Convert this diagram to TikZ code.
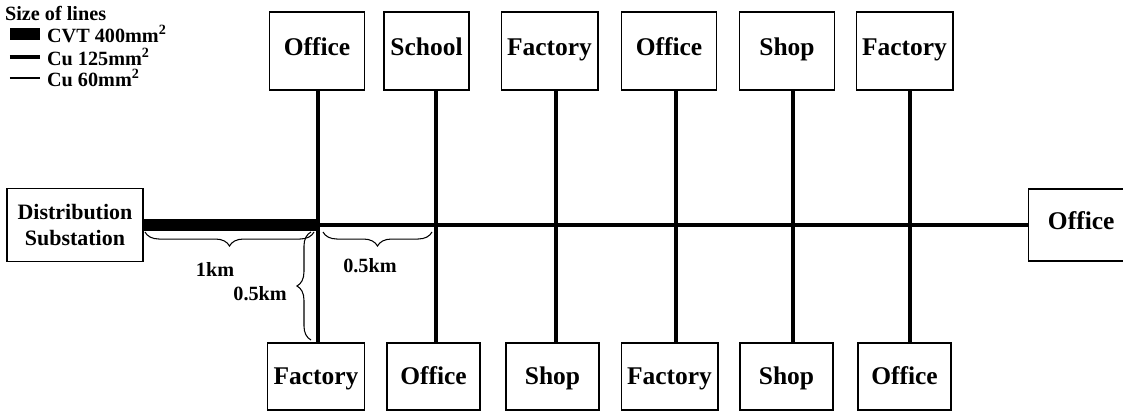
\documentclass[tikz,border=0pt]{standalone}
\usepackage{fontspec}
\setmainfont{Liberation Serif}
\usetikzlibrary{positioning,decorations.pathreplacing}

\begin{document}
\begin{tikzpicture}[
  bx/.style={draw=black,thick,minimum width=1.9cm,minimum height=1.56cm,text height=1.6ex,text depth=0.5ex,font=\fontsize{14.5}{16}\selectfont\bfseries},
  lo/.style={bx,minimum width=1.86cm,minimum height=1.34cm,text height=2.4ex},
  lg/.style={anchor=west,inner sep=1pt,font=\fontsize{11.5}{13}\selectfont\bfseries},
  lbl/.style={font=\fontsize{11.5}{13}\selectfont\bfseries},
  cvt/.style={line width=6.8pt},
  cua/.style={line width=2.8pt},
  cub/.style={line width=1.8pt},
  drop/.style={line width=2.2pt},
  br/.style={decorate,decoration={brace,amplitude=8pt,mirror},semithick}]
\clip (0,0) rectangle (22.46,8.34);
% legend
\node[lg] (key) at (0.06,8.08) {Size of lines};
\fill (0.2,7.54) rectangle (0.8,7.78);
\node[lg] (k1) at (0.9,7.66) {CVT 400mm\textsuperscript{2}};
\draw[cua] (0.2,7.2) -- (0.8,7.2);
\node[lg] (k2) at (0.9,7.2) {Cu 125mm\textsuperscript{2}};
\draw[line width=1.2pt] (0.2,6.78) -- (0.8,6.78);
\node[lg] (k3) at (0.9,6.78) {Cu 60mm\textsuperscript{2}};
% substation and end load
\node[bx,minimum width=2.72cm,minimum height=1.46cm,align=center,text height=,text depth=,font=\fontsize{12.5}{15}\selectfont\bfseries] (dist) at (1.5,3.84) {Distribution\\Substation};
\node[bx,minimum width=2.1cm,minimum height=1.44cm,anchor=west] (end) at (20.56,3.84) {Office};
% tap points on the feeder
\coordinate (j1) at (6.36,3.84);
\coordinate (j2) at (8.72,3.84);
\coordinate (j3) at (11.12,3.84);
\coordinate (j4) at (13.52,3.84);
\coordinate (j5) at (15.86,3.84);
\coordinate (j6) at (18.2,3.84);
% loads above
\node[bx] (t1) at (6.34,7.32) {Office};
\node[bx,minimum width=1.7cm] (t2) at (8.53,7.32) {School};
\node[bx] (t3) at (10.99,7.32) {Factory};
\node[bx] (t4) at (13.38,7.32) {Office};
\node[bx] (t5) at (15.74,7.32) {Shop};
\node[bx] (t6) at (18.09,7.32) {Factory};
% loads below
\node[lo] (b1) at (6.32,0.81) {Factory};
\node[lo] (b2) at (8.67,0.81) {Office};
\node[lo] (b3) at (11.05,0.81) {Shop};
\node[lo] (b4) at (13.39,0.81) {Factory};
\node[lo] (b5) at (15.73,0.81) {Shop};
\node[lo] (b6) at (18.09,0.81) {Office};
% feeder
\draw[cvt] (dist.east) -- (j1);
\draw[cua] (j1) -- (j4);
\draw[cub] (j4) -- (end.west);
\draw[drop] (t1.south -| j1) -- (b1.north -| j1);
\draw[drop] (t2.south -| j2) -- (b2.north -| j2);
\draw[drop] (t3.south -| j3) -- (b3.north -| j3);
\draw[drop] (t4.south -| j4) -- (b4.north -| j4);
\draw[drop] (t5.south -| j5) -- (b5.north -| j5);
\draw[drop] (t6.south -| j6) -- (b6.north -| j6);
% distances
\draw[br] (2.9,3.7) -- (6.28,3.7);
\node[lbl] (d1) at (4.3,2.96) {1km};
\draw[br] (6.46,3.7) -- (8.64,3.7);
\node[lbl] (d2) at (7.4,3.02) {0.5km};
\draw[br] (6.22,3.7) -- (6.22,1.54);
\node[lbl,anchor=east] (d3) at (5.86,2.46) {0.5km};
\end{tikzpicture}
\end{document}
